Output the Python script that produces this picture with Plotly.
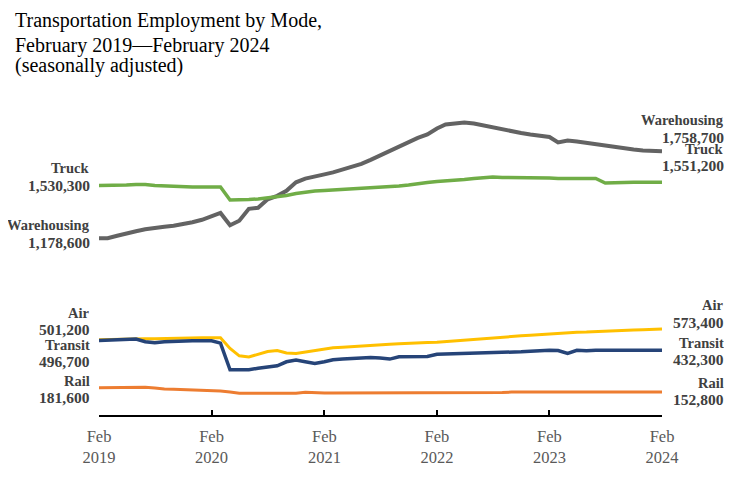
import pandas as pd
import plotly.graph_objects as go

# monthly, Feb 2019 - Feb 2024 (seasonally adjusted)
months = pd.date_range("2019-02-01", "2024-02-01", freq="MS")

warehousing = [
    1178600, 1178600, 1195200, 1211900, 1225200, 1238500, 1249800, 1255100, 1261700, 1271700,
    1285000, 1301600, 1321600, 1346800, 1265000, 1295000, 1374800, 1381400, 1438000, 1461200,
    1494500, 1551000, 1575600, 1587600, 1604200, 1617500, 1637500, 1650800, 1674000, 1700600,
    1730600, 1760500, 1790400, 1820300, 1846900, 1870200, 1910100, 1936700, 1946700, 1950000,
    1943400, 1930100, 1916800, 1903500, 1890200, 1880200, 1870200, 1863600, 1853600, 1817000,
    1830300, 1823700, 1813700, 1803700, 1797100, 1787100, 1780400, 1770500, 1763800, 1760500,
    1758700,
]
truck = [
    1530300, 1530300, 1530300, 1533600, 1536900, 1536900, 1530300, 1527000, 1527000, 1523700,
    1520300, 1520300, 1520300, 1520300, 1433900, 1433900, 1437200, 1440500, 1447200, 1453800,
    1463800, 1477100, 1487100, 1493700, 1497100, 1500400, 1503700, 1507000, 1507000, 1513700,
    1517000, 1520300, 1527000, 1533600, 1543600, 1550200, 1556900, 1560200, 1563500, 1570200,
    1576800, 1583500, 1586800, 1583500, 1583500, 1583500, 1583500, 1583500, 1580200, 1576800,
    1576800, 1576800, 1576800, 1576800, 1546900, 1550200, 1552000, 1552000, 1551800, 1551500,
    1551200,
]
air = [
    501200, 503200, 505200, 507900, 507900, 507900, 507900, 509900, 509900, 511900,
    514500, 514500, 514500, 514500, 443300, 394600, 386700, 406600, 423300, 429900,
    413300, 410000, 420000, 433300, 443300, 448600, 451900, 456600, 459900, 466600,
    469900, 471900, 474600, 478600, 481200, 483200, 485200, 489900, 495200, 501200,
    505200, 509900, 514500, 518500, 523200, 527800, 531800, 536500, 541200, 544500,
    548500, 551800, 553100, 556500, 558500, 559800, 563100, 566500, 568500, 571100,
    573400,
]
transit = [
    496700, 498000, 501400, 504700, 506000, 488000, 481400, 488000, 491400, 492700,
    494700, 494700, 494700, 479400, 301600, 301600, 301600, 311600, 321500, 328200,
    354800, 366200, 354800, 343500, 354800, 368200, 373500, 378200, 381500, 383500,
    380200, 372800, 388100, 390100, 390100, 390100, 404800, 406100, 406100, 408100,
    410100, 412800, 414800, 416100, 419400, 421400, 424800, 429400, 431400, 430100,
    410100, 431400, 428100, 431400, 432800, 431800, 432000, 432100, 432200, 432000,
    432300,
]
rail = [
    181600, 182900, 182900, 182900, 182900, 184900, 179600, 172900, 171600, 169600,
    166300, 166300, 164300, 159600, 153000, 145000, 145000, 145000, 145000, 145000,
    145000, 145000, 151000, 147500, 147500, 147500, 147500, 147500, 147500, 147500,
    147500, 147500, 147500, 147500, 147500, 147500, 147500, 147500, 147500, 147500,
    147500, 147500, 147500, 150500, 152800, 152800, 152800, 152800, 152800, 152800,
    152800, 152800, 152800, 152800, 152800, 152800, 152800, 152800, 152800, 152800,
    152800,
]

tick_years = [2019, 2020, 2021, 2022, 2023, 2024]

series = [
    ("Warehousing", warehousing, "#636363", 4),
    ("Truck", truck, "#70AD47", 3.5),
    ("Air", air, "#FFC000", 3),
    ("Transit", transit, "#264478", 3.5),
    ("Rail", rail, "#ED7D31", 3),
]

fig = go.Figure()
for name, vals, color, w in series:
    fig.add_trace(go.Scatter(x=months, y=vals, mode="lines", name=name,
                             line=dict(color=color, width=w)))

name_font = dict(family="Liberation Serif", size=14.5, color="#404040")
value_font = dict(family="Liberation Serif", size=15.5, color="#404040")

# (name line, value line) positions in paper y for start and end labels
left_y = {
    "Truck": (0.784, 0.730), "Warehousing": (0.603, 0.549),
    "Air": (0.325, 0.272), "Transit": (0.222, 0.169), "Rail": (0.109, 0.056),
}
right_y = {
    "Warehousing": (0.935, 0.880), "Truck": (0.846, 0.793),
    "Air": (0.349, 0.295), "Transit": (0.229, 0.175), "Rail": (0.102, 0.048),
}

for name, vals, color, w in series:
    for xpos, ys, v in ((-0.012, left_y[name], vals[0]), (1.114, right_y[name], vals[-1])):
        fig.add_annotation(text=f"<b>{name}</b>", xref="paper", yref="paper",
                           x=xpos, y=ys[0], xanchor="right", yanchor="middle",
                           showarrow=False, font=name_font)
        fig.add_annotation(text=f"<b>{v:,}</b>", xref="paper", yref="paper",
                           x=xpos, y=ys[1], xanchor="right", yanchor="middle",
                           showarrow=False, font=value_font)

# title block, one annotation per line
title_lines = [
    ("Transportation Employment by Mode,", 1.2508, 20),
    ("February 2019\u2014February 2024", 1.1724, 20),
    ("(seasonally adjusted)", 1.1098, 20),
]
for txt, ypos, size in title_lines:
    fig.add_annotation(text=txt, xref="paper", yref="paper", x=-0.152, y=ypos,
                       xanchor="left", yanchor="middle", align="left", showarrow=False,
                       font=dict(family="Liberation Serif", size=size, color="#000000"))

fig.update_xaxes(
    range=[months[0], months[-1]],
    tickvals=[pd.Timestamp(f"{y}-02-01") for y in tick_years],
    ticktext=[f"Feb<br>{y}" for y in tick_years],
    showgrid=False, zeroline=False, automargin=False,
    showline=True, linecolor="black", linewidth=2,
    ticks="inside", ticklen=5, tickcolor="black", tickwidth=1.5,
    ticklabelstandoff=5,
    tickfont=dict(family="Liberation Serif", size=16.5, color="#595959"),
)
fig.update_yaxes(range=[0, 2100000], visible=False)

# page body adds an 8px margin, so the figure is smaller than the window
fig.update_layout(
    width=724, height=464,
    margin=dict(l=91, r=70, t=92, b=57),
    plot_bgcolor="white", paper_bgcolor="white",
    showlegend=False,
)

fig.write_html("out.html")
